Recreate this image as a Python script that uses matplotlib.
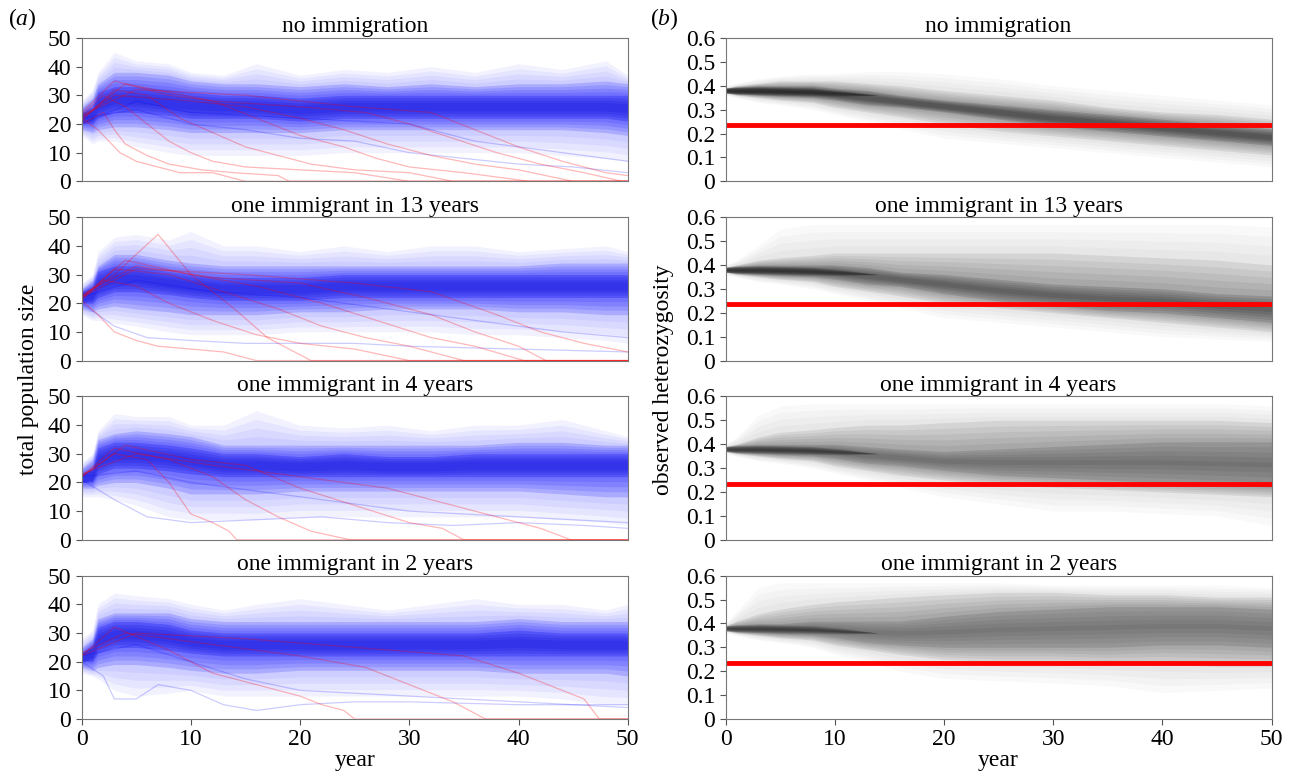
import numpy as np
import matplotlib.pyplot as plt

plt.rcParams['font.family'] = ['Liberation Serif', 'DejaVu Serif']
plt.rcParams['mathtext.fontset'] = 'custom'
plt.rcParams['mathtext.rm'] = 'Liberation Serif'
plt.rcParams['mathtext.it'] = 'Liberation Serif:italic'

titles = ['no immigration', 'one immigrant in 13 years',
          'one immigrant in 4 years', 'one immigrant in 2 years']

# ---- (a) total population size: envelopes ----
pop_years = [0, 1, 1.5, 3, 5, 8, 10, 13, 16, 20, 24, 28, 32, 36, 40, 44, 48, 50]

pop_none_outer_hi = [28, 32, 38, 45, 42, 41, 38, 37, 41, 37, 39, 38, 40, 38, 41, 39, 42, 37]
pop_none_mid_hi = [26, 29, 34, 38, 38, 37, 35, 34, 34, 33, 34, 33, 34, 33, 34, 34, 35, 34]
pop_none_core_hi = [24, 26, 31, 33, 33, 32, 31, 30, 30, 29, 30, 30, 30, 30, 30, 30, 30, 30]
pop_none_core_lo = [20, 20, 22, 24, 24, 23, 22, 22, 22, 21, 22, 22, 22, 22, 22, 22, 22, 21]
pop_none_mid_lo = [18, 17, 18, 19, 19, 18, 17, 17, 17, 17, 18, 18, 18, 18, 18, 18, 17, 16]
pop_none_outer_lo = [16, 13, 14, 14, 12, 10, 9, 9, 9, 9, 10, 10, 10, 10, 10, 9, 8, 7]

pop_13_outer_hi = [27, 30, 38, 43, 44, 42, 45, 40, 40, 38, 40, 38, 40, 40, 38, 39, 40, 38]
pop_13_mid_hi = [25, 28, 33, 37, 37, 35, 34, 33, 33, 33, 33, 33, 33, 33, 33, 34, 34, 34]
pop_13_core_hi = [24, 26, 31, 33, 33, 31, 30, 29, 29, 29, 30, 30, 30, 30, 30, 30, 30, 30]
pop_13_core_lo = [20, 20, 22, 24, 24, 23, 22, 21, 21, 21, 22, 22, 22, 22, 22, 22, 22, 22]
pop_13_mid_lo = [18, 17, 18, 19, 18, 17, 16, 16, 16, 17, 17, 18, 18, 18, 17, 17, 16, 16]
pop_13_outer_lo = [16, 14, 14, 13, 12, 10, 9, 9, 9, 10, 10, 10, 10, 9, 9, 8, 7, 6]

pop_4_outer_hi = [27, 30, 38, 44, 43, 43, 40, 40, 45, 40, 39, 40, 38, 40, 40, 42, 38, 36]
pop_4_mid_hi = [25, 28, 35, 37, 38, 37, 36, 33, 33, 33, 33, 33, 33, 33, 34, 34, 33, 33]
pop_4_core_hi = [23, 25, 32, 34, 34, 33, 32, 30, 30, 29, 30, 29, 29, 30, 30, 30, 30, 30]
pop_4_core_lo = [20, 20, 23, 25, 25, 24, 23, 22, 22, 22, 22, 22, 22, 22, 22, 22, 22, 22]
pop_4_mid_lo = [18, 18, 19, 20, 20, 18, 16, 16, 16, 17, 17, 17, 17, 17, 17, 16, 15, 15]
pop_4_outer_lo = [15, 15, 15, 14, 12, 8, 7, 7, 7, 8, 8, 8, 8, 8, 8, 7, 6, 5]

pop_2_outer_hi = [28, 31, 40, 44, 43, 42, 40, 38, 40, 42, 40, 38, 40, 42, 40, 40, 38, 40]
pop_2_mid_hi = [25, 28, 35, 37, 37, 37, 35, 34, 34, 34, 34, 34, 34, 34, 35, 34, 34, 34]
pop_2_core_hi = [23, 26, 32, 34, 34, 33, 31, 30, 30, 30, 30, 30, 30, 30, 31, 30, 30, 30]
pop_2_core_lo = [20, 20, 23, 25, 25, 24, 23, 22, 22, 22, 22, 22, 22, 22, 22, 22, 22, 22]
pop_2_mid_lo = [18, 17, 18, 19, 19, 18, 17, 16, 16, 17, 17, 17, 17, 17, 16, 16, 16, 15]
pop_2_outer_lo = [16, 15, 14, 10, 8, 9, 10, 8, 8, 8, 8, 8, 8, 8, 8, 7, 5, 5]

# extinct runs (red) and a few low surviving runs (blue), (years, sizes)
red_none = [
    ([0, 1.5, 2.5, 3.5, 5, 7, 9, 12, 15, 50], [22, 18, 14, 10, 7, 5, 3, 3, 0, 0]),
    ([0, 2, 3, 4, 6, 8, 11, 14, 18, 19, 50], [20, 24, 18, 13, 9, 6, 4, 3, 2, 0, 0]),
    ([0, 2, 4, 6, 8, 10, 12, 15, 20, 25, 30, 50], [23, 30, 26, 20, 14, 10, 7, 5, 4, 3, 0, 0]),
    ([0, 3, 6, 9, 12, 15, 18, 21, 25, 30, 34, 50], [21, 32, 30, 22, 17, 12, 9, 6, 4, 3, 0, 0]),
    ([0, 3, 8, 12, 16, 20, 24, 27, 30, 35, 41, 50], [24, 35, 30, 28, 22, 16, 12, 8, 5, 3, 0, 0]),
    ([0, 3, 10, 15, 20, 24, 28, 32, 36, 40, 45, 50], [22, 30, 28, 26, 22, 18, 13, 9, 6, 4, 0, 0]),
    ([0, 4, 12, 20, 26, 30, 34, 38, 42, 46, 49.5, 50], [22, 34, 28, 26, 24, 20, 15, 10, 6, 3, 0, 0]),
    ([0, 5, 15, 25, 32, 36, 40, 44, 48, 50], [23, 32, 30, 26, 24, 18, 12, 7, 3, 2]),
]
blue_none = [
    ([0, 5, 10, 15, 20, 25, 30, 35, 40, 45, 50], [22, 25, 20, 18, 15, 14, 10, 8, 6, 5, 3]),
    ([0, 5, 10, 20, 30, 36, 40, 44, 48, 50], [20, 28, 24, 22, 20, 14, 12, 10, 8, 7]),
]
red_13 = [
    ([0, 1.5, 3, 5, 7, 10, 13, 16, 50], [21, 16, 10, 7, 5, 4, 3, 0, 0]),
    ([0, 3, 7, 10, 14, 17, 21, 50], [22, 30, 44, 30, 18, 8, 0, 0]),
    ([0, 2, 5, 8, 12, 16, 20, 25, 30, 50], [22, 28, 26, 20, 14, 9, 6, 4, 0, 0]),
    ([0, 3, 8, 13, 18, 22, 26, 30, 35, 50], [21, 32, 30, 24, 18, 12, 8, 5, 0, 0]),
    ([0, 4, 10, 16, 22, 27, 32, 36, 40.5, 50], [22, 35, 30, 26, 20, 14, 8, 5, 0, 0]),
    ([0, 5, 12, 20, 26, 32, 36, 40, 42.5, 50], [23, 33, 29, 27, 22, 16, 10, 5, 0, 0]),
    ([0, 5, 15, 25, 32, 38, 42, 46, 50], [22, 32, 30, 27, 24, 16, 10, 6, 3]),
]
blue_13 = [
    ([0, 3, 6, 10, 15, 20, 25, 30, 40, 50], [20, 12, 8, 7, 6, 6, 6, 5, 4, 3]),
    ([0, 5, 12, 20, 28, 36, 44, 50], [22, 28, 24, 22, 18, 14, 10, 8]),
]
red_4 = [
    ([0, 3, 6, 8, 10, 12, 13.5, 14.2, 50], [22, 30, 28, 20, 9, 6, 3, 0, 0]),
    ([0, 3, 8, 12, 15, 18, 21, 24.6, 50], [22, 32, 28, 22, 14, 8, 3, 0, 0]),
    ([0, 4, 10, 15, 20, 25, 30, 33, 35, 50], [22, 33, 28, 26, 18, 12, 6, 4, 0, 0]),
    ([0, 5, 12, 20, 28, 34, 38, 42, 44.8, 50], [23, 30, 26, 22, 18, 12, 8, 4, 0, 0]),
]
blue_4 = [
    ([0, 3, 6, 10, 16, 22, 28, 34, 40, 46, 50], [21, 14, 8, 6, 7, 8, 6, 5, 6, 5, 4]),
    ([0, 5, 10, 20, 30, 40, 45, 50], [22, 24, 20, 15, 10, 8, 7, 6]),
]
red_2 = [
    ([0, 3, 8, 12, 16, 20, 22, 24, 25, 50], [22, 32, 24, 16, 12, 8, 5, 3, 0, 0]),
    ([0, 4, 12, 20, 26, 30, 34, 37, 50], [23, 30, 26, 22, 18, 12, 6, 0, 0]),
    ([0, 5, 15, 25, 35, 40, 44, 46, 47.4, 50], [22, 30, 28, 25, 22, 16, 10, 7, 0, 0]),
]
blue_2 = [
    ([0, 2, 3, 5, 7, 10, 13, 16, 20, 25, 30, 40, 45, 50], [20, 15, 7, 7, 12, 10, 5, 3, 5, 6, 6, 5, 5, 5]),
    ([0, 5, 10, 15, 20, 30, 40, 50], [22, 26, 20, 14, 10, 8, 6, 4]),
]

# ---- (b) observed heterozygosity envelopes ----
het_years = [0, 1, 3, 5, 8, 10, 13, 16, 20, 25, 30, 35, 40, 45, 50]
het_start_years = [0, 1, 3, 5, 8, 11, 14]
het_start_lo = [0.372, 0.366, 0.362, 0.36, 0.357, 0.356, 0.36]
het_start_hi = [0.388, 0.392, 0.395, 0.394, 0.39, 0.378, 0.36]
het_threshold = 0.235

het_none_outer_hi = [0.40, 0.41, 0.43, 0.44, 0.45, 0.45, 0.46, 0.46, 0.45, 0.43, 0.40, 0.38, 0.36, 0.34, 0.32]
het_none_mid_hi = [0.39, 0.40, 0.41, 0.42, 0.42, 0.42, 0.41, 0.40, 0.38, 0.36, 0.34, 0.31, 0.29, 0.28, 0.26]
het_none_core_hi = [0.39, 0.395, 0.40, 0.40, 0.40, 0.39, 0.38, 0.36, 0.34, 0.32, 0.30, 0.28, 0.26, 0.24, 0.22]
het_none_core_lo = [0.37, 0.365, 0.36, 0.355, 0.35, 0.34, 0.32, 0.31, 0.29, 0.26, 0.23, 0.21, 0.19, 0.17, 0.15]
het_none_mid_lo = [0.37, 0.36, 0.35, 0.34, 0.33, 0.31, 0.29, 0.27, 0.24, 0.21, 0.19, 0.17, 0.15, 0.13, 0.11]
het_none_outer_lo = [0.36, 0.35, 0.33, 0.32, 0.30, 0.28, 0.25, 0.22, 0.18, 0.16, 0.14, 0.12, 0.10, 0.08, 0.06]

het_13_outer_hi = [0.40, 0.42, 0.48, 0.55, 0.57, 0.57, 0.57, 0.57, 0.57, 0.57, 0.57, 0.57, 0.57, 0.57, 0.56]
het_13_mid_hi = [0.39, 0.40, 0.42, 0.43, 0.44, 0.45, 0.45, 0.45, 0.45, 0.45, 0.45, 0.44, 0.43, 0.42, 0.40]
het_13_core_hi = [0.39, 0.395, 0.40, 0.40, 0.40, 0.40, 0.39, 0.37, 0.36, 0.34, 0.32, 0.31, 0.30, 0.28, 0.27]
het_13_core_lo = [0.37, 0.365, 0.36, 0.355, 0.35, 0.34, 0.32, 0.31, 0.28, 0.25, 0.23, 0.21, 0.20, 0.18, 0.16]
het_13_mid_lo = [0.37, 0.36, 0.35, 0.34, 0.33, 0.31, 0.29, 0.27, 0.24, 0.22, 0.20, 0.18, 0.16, 0.14, 0.12]
het_13_outer_lo = [0.36, 0.35, 0.33, 0.32, 0.30, 0.28, 0.25, 0.22, 0.18, 0.16, 0.14, 0.12, 0.10, 0.09, 0.08]

het_4_outer_hi = [0.40, 0.43, 0.52, 0.56, 0.57, 0.57, 0.57, 0.57, 0.57, 0.57, 0.57, 0.57, 0.57, 0.57, 0.56]
het_4_mid_hi = [0.39, 0.40, 0.43, 0.45, 0.46, 0.47, 0.48, 0.48, 0.49, 0.50, 0.50, 0.50, 0.50, 0.50, 0.49]
het_4_core_hi = [0.39, 0.395, 0.40, 0.40, 0.40, 0.40, 0.39, 0.38, 0.37, 0.38, 0.39, 0.40, 0.41, 0.41, 0.41]
het_4_core_lo = [0.37, 0.365, 0.36, 0.355, 0.35, 0.34, 0.32, 0.31, 0.29, 0.27, 0.26, 0.25, 0.24, 0.23, 0.22]
het_4_mid_lo = [0.37, 0.36, 0.35, 0.34, 0.33, 0.31, 0.29, 0.27, 0.25, 0.23, 0.22, 0.21, 0.20, 0.19, 0.18]
het_4_outer_lo = [0.36, 0.35, 0.33, 0.32, 0.30, 0.28, 0.25, 0.22, 0.18, 0.15, 0.12, 0.12, 0.11, 0.10, 0.06]

het_2_outer_hi = [0.40, 0.45, 0.55, 0.57, 0.57, 0.57, 0.57, 0.57, 0.57, 0.57, 0.56, 0.56, 0.56, 0.56, 0.55]
het_2_mid_hi = [0.39, 0.41, 0.44, 0.46, 0.48, 0.49, 0.50, 0.51, 0.52, 0.53, 0.53, 0.52, 0.52, 0.51, 0.51]
het_2_core_hi = [0.39, 0.395, 0.40, 0.40, 0.41, 0.41, 0.41, 0.41, 0.43, 0.45, 0.46, 0.47, 0.47, 0.47, 0.46]
het_2_core_lo = [0.37, 0.365, 0.36, 0.355, 0.35, 0.34, 0.32, 0.31, 0.30, 0.30, 0.30, 0.30, 0.31, 0.31, 0.30]
het_2_mid_lo = [0.37, 0.36, 0.35, 0.34, 0.33, 0.31, 0.29, 0.27, 0.25, 0.24, 0.24, 0.23, 0.23, 0.22, 0.22]
het_2_outer_lo = [0.36, 0.35, 0.33, 0.32, 0.30, 0.27, 0.24, 0.20, 0.17, 0.16, 0.15, 0.14, 0.11, 0.12, 0.13]

pop_panels = [
    (pop_none_outer_lo, pop_none_outer_hi, pop_none_mid_lo, pop_none_mid_hi, pop_none_core_lo, pop_none_core_hi, red_none, blue_none),
    (pop_13_outer_lo, pop_13_outer_hi, pop_13_mid_lo, pop_13_mid_hi, pop_13_core_lo, pop_13_core_hi, red_13, blue_13),
    (pop_4_outer_lo, pop_4_outer_hi, pop_4_mid_lo, pop_4_mid_hi, pop_4_core_lo, pop_4_core_hi, red_4, blue_4),
    (pop_2_outer_lo, pop_2_outer_hi, pop_2_mid_lo, pop_2_mid_hi, pop_2_core_lo, pop_2_core_hi, red_2, blue_2),
]
het_panels = [
    (het_none_outer_lo, het_none_outer_hi, het_none_mid_lo, het_none_mid_hi, het_none_core_lo, het_none_core_hi),
    (het_13_outer_lo, het_13_outer_hi, het_13_mid_lo, het_13_mid_hi, het_13_core_lo, het_13_core_hi),
    (het_4_outer_lo, het_4_outer_hi, het_4_mid_lo, het_4_mid_hi, het_4_core_lo, het_4_core_hi),
    (het_2_outer_lo, het_2_outer_hi, het_2_mid_lo, het_2_mid_hi, het_2_core_lo, het_2_core_hi),
]
# how dark the gray core is drawn in each (b) panel
het_core_alpha = [0.11, 0.085, 0.06, 0.05]


def shade(ax, x, lo_a, hi_a, lo_b, hi_b, color, steps, alpha):
    # soft gradient from the wide envelope (a) to the narrow one (b)
    lo_a, hi_a, lo_b, hi_b = map(np.asarray, (lo_a, hi_a, lo_b, hi_b))
    for t in np.linspace(0, 1, steps):
        ax.fill_between(x, lo_a + t * (lo_b - lo_a), hi_a + t * (hi_b - hi_a),
                        color=color, alpha=alpha, lw=0)


fig, axes = plt.subplots(4, 2, figsize=(12.95, 7.74), dpi=100)
plt.subplots_adjust(left=0.063, right=0.982, top=0.951, bottom=0.071,
                    hspace=0.25, wspace=0.179)

fs = 17
start_mid = (np.asarray(het_start_lo) + np.asarray(het_start_hi)) / 2
for i in range(4):
    ax = axes[i, 0]
    olo, ohi, mlo, mhi, clo, chi, reds, blues = pop_panels[i]
    shade(ax, pop_years, olo, ohi, mlo, mhi, 'blue', 5, 0.05)
    shade(ax, pop_years, mlo, mhi, clo, chi, 'blue', 5, 0.12)
    clo_a, chi_a = np.asarray(clo), np.asarray(chi)
    mid = (clo_a + chi_a) / 2
    shade(ax, pop_years, clo, chi, mid - 1.5, mid + 1.5, '#0a0ad8', 4, 0.17)
    for xs, ys in blues:
        ax.plot(xs, ys, color='blue', alpha=0.2, lw=0.9)
    for xs, ys in reds:
        ax.plot(xs, ys, color='red', alpha=0.28, lw=0.9)
    ax.set_ylim(0, 50)
    ax.set_yticks([0, 10, 20, 30, 40, 50])

    ax = axes[i, 1]
    olo, ohi, mlo, mhi, clo, chi = het_panels[i]
    shade(ax, het_years, olo, ohi, mlo, mhi, 'black', 5, 0.025)
    shade(ax, het_years, mlo, mhi, clo, chi, 'black', 6, 0.055)
    clo_a, chi_a = np.asarray(clo), np.asarray(chi)
    mid = (clo_a + chi_a) / 2
    shade(ax, het_years, clo, chi, mid - 0.01, mid + 0.01, 'black', 5,
          het_core_alpha[i])
    shade(ax, het_start_years, het_start_lo, het_start_hi,
          start_mid, start_mid, 'black', 5, 0.14)
    ax.axhline(het_threshold, color='red', lw=3.5)
    ax.set_ylim(0, 0.6)
    ax.set_yticks([0, 0.1, 0.2, 0.3, 0.4, 0.5, 0.6])
    ax.set_yticklabels(['0', '0.1', '0.2', '0.3', '0.4', '0.5', '0.6'])

    for ax in axes[i]:
        ax.set_xlim(0, 50)
        ax.set_title(titles[i], fontsize=fs, pad=4)
        ax.tick_params(labelsize=fs, length=4, color='#555555')
        for sp in ax.spines.values():
            sp.set_color('#777777')
        if i < 3:
            ax.set_xticks([])
        else:
            ax.set_xticks([0, 10, 20, 30, 40, 50])
            ax.set_xlabel('year', fontsize=fs, labelpad=0)

fig.text(0.022, 0.51, 'total population size', rotation=90, fontsize=fs,
         ha='center', va='center')
fig.text(0.512, 0.51, 'observed heterozygosity', rotation=90, fontsize=fs,
         ha='center', va='center')
fig.text(0.006, 0.975, r'($\it{a}$)', fontsize=fs, ha='left', va='center')
fig.text(0.502, 0.975, r'($\it{b}$)', fontsize=fs, ha='left', va='center')

plt.savefig('out.png')
